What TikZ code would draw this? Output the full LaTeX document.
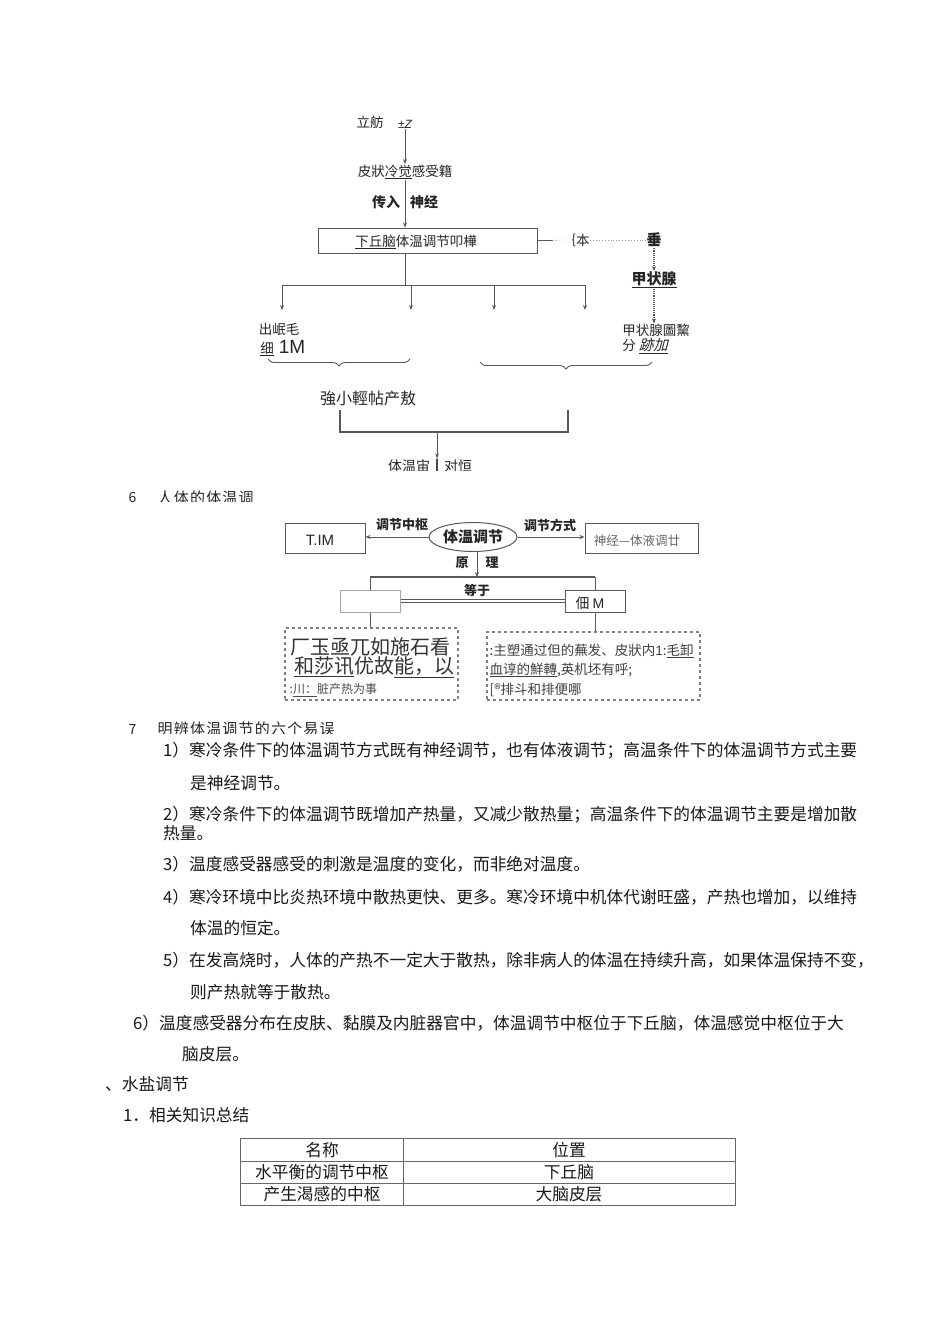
\documentclass[tikz,border=0pt]{standalone}
\usepackage{fontspec}
\setmainfont{Noto Sans CJK SC}
\newfontfamily\lat{Liberation Sans}
\usetikzlibrary{arrows.meta,shapes.geometric,decorations.pathreplacing}
\tikzset{
  txt/.style={inner sep=0.5pt, text=black!85, font=\fontsize{13.5}{15}\selectfont},
  bt/.style={inner sep=0.5pt, text=black!85, font=\fontsize{13.5}{15}\selectfont\bfseries},
  body/.style={inner sep=0pt, anchor=west, text=black!90, font=\fontsize{16.7}{18}\selectfont},
  ln/.style={draw=black!65, line width=0.9pt},
  arr/.style={ln, -{Stealth[length=5pt,width=4pt]}},
  darr/.style={ln, densely dotted, line width=1.3pt, -{Stealth[length=5pt,width=4pt]}},
  bx/.style={draw=black!65, line width=1pt, inner sep=0pt},
  dbx/.style={draw=black!50, dashed, line width=1.4pt, inner sep=0pt},
}
\begin{document}
\begin{tikzpicture}[x=1pt,y=-1pt]
\useasboundingbox[fill=white] (0,0) rectangle (950,1318);

% ---------------- top chart ----------------
\node[txt] (heat) at (370,122) {立舫};
\node[txt, font=\lat\itshape\fontsize{12}{14}\selectfont] (heatz) at (405,124) {±Z};
\node[txt] (recep) at (405,172) {皮狀\underline{冷觉}感受籍};
\draw[arr] (heatz.south) -- (recep.north);
\node[bx, minimum width=219, minimum height=25] (hyp) at (427.5,240.5) {};
\node[txt] (hyplab) at (416,242) {\underline{下丘脑}体温调节叩樺};
\draw[arr] (recep.south) -- (recep.south |- hyp.north);
\node[bt, font=\fontsize{14}{15}\selectfont\bfseries] (cr) at (386,202) {传入};
\node[bt, font=\fontsize{14}{15}\selectfont\bfseries] (sj) at (424,202) {神经};
\node[txt] (ben) at (576,240) {｛本};
\node[bt, font=\fontsize{15}{15}\selectfont\bfseries] (chui) at (654,240) {垂};
\draw[ln] (hyp.east) -- ++(15,0) coordinate (hr);
\draw[ln, dotted, draw=black!40] (hr) -- (ben.west);
\draw[ln, dotted, draw=black!40] (ben.east) -- (chui.west);
\node[bt, font=\fontsize{15}{15}\selectfont\bfseries] (jzx) at (654,280) {\underline{甲状腺}};
\draw[darr] (chui.south) -- (chui.south |- jzx.north);
\node[txt, align=left] (jzxs) at (656,339) {甲状腺圖黧\\分 {\addfontfeature{FakeSlant=0.25}\fontsize{14.5}{14}\selectfont\underline{跡加}}};
\draw[darr] (jzx.south) -- (jzx.south |- jzxs.north);

\coordinate (bj) at (405,285);
\coordinate (a1) at (282,310);
\coordinate (a2) at (411,310);
\coordinate (a3) at (494,310);
\coordinate (a4) at (585,310);
\draw[ln] (hyp.south -| bj) -- (bj);
\draw[ln] (a1 |- bj) -- (a4 |- bj);
\foreach \a in {a1,a2,a3,a4} \draw[arr] (\a |- bj) -- (\a);

\node[txt] (e1a) at (279,329) {出岷毛};
\node[txt] (e1b) at (267,349) {\underline{细}};
\node[txt, font=\lat\fontsize{19}{19}\selectfont] (e1c) at (292,347) {1M};

\coordinate (bl1) at (268,359);
\coordinate (bl2) at (410,359);
\draw[ln, decorate, decoration={brace, mirror, amplitude=7pt}] (bl1) -- (bl2);
\coordinate (br1) at (480,362);
\coordinate (br2) at (652,362);
\draw[ln, decorate, decoration={brace, mirror, amplitude=7pt}] (br1) -- (br2);

\node[txt, font=\fontsize{16}{16}\selectfont] (less) at (368,398) {強小輕帖产敖};
\coordinate (l1) at (340,410);
\coordinate (r1) at (568,410);
\coordinate (jn) at (437,432);
\draw[ln, line width=1.2pt] (l1) -- (l1 |- jn) -- (r1 |- jn) -- (r1);
\begin{scope}
  \clip (370,440) rectangle (510,470);
  \node[txt, font=\fontsize{14}{14}\selectfont] (fin) at (430,466) {体温宙┃对恒};
\end{scope}
\draw[arr] (jn) -- (jn |- fin.north);

% section 6 heading (clipped)
\begin{scope}
  \clip (100,485) rectangle (320,501.5);
  \node[txt, anchor=west, font=\fontsize{14}{14}\selectfont] (s6n) at (128,497.5) {6};
  \node[txt, anchor=west, font=\fontsize{15}{15}\selectfont\addfontfeature{LetterSpace=8}] (s6) at (157,497.5) {人体的体温调};
\end{scope}

% ---------------- second chart ----------------
\node[bx, minimum width=80, minimum height=30] (tim) at (325,538) {};
\node[txt, font=\lat\fontsize{15}{15}\selectfont] (timl) at (320,540) {T.IM};
\node[draw=black!65, line width=1pt, ellipse, inner sep=0pt, minimum width=88, minimum height=29, font=\fontsize{15}{15}\selectfont\bfseries, text=black!85] (tw) at (473,537) {体温调节};
\node[bx, minimum width=113, minimum height=30] (mode) at (641.5,538) {};
\node[txt, text=black!60, font=\fontsize{12.5}{14}\selectfont] (model) at (637,541) {神经—体液调廿};
\draw[arr] (tw.west) -- (tim.east |- tw.west);
\draw[arr] (tw.east) -- (mode.west |- tw.east);
\node[bt, font=\fontsize{13}{15}\selectfont\bfseries] (zs) at (402,525) {调节中枢};
\node[bt, font=\fontsize{13}{15}\selectfont\bfseries] (fs) at (550,525) {调节方式};
\coordinate (pt) at (477,577);
\draw[arr] (tw.south -| pt) -- (pt);
\node[bt, font=\fontsize{13}{15}\selectfont\bfseries] (yuan) at (462,563) {原};
\node[bt, font=\fontsize{13}{15}\selectfont\bfseries] (li) at (492,563) {理};
\node[bx, draw=black!35, minimum width=60, minimum height=22] (lb) at (370,601) {};
\node[bx, minimum width=60, minimum height=22] (rb) at (595,601) {};
\node[txt, font=\fontsize{14}{14}\selectfont] (rbl) at (590,603) {佃 {\lat M}};
\draw[ln, line width=1.3pt] (lb.north |- pt) -- (rb.north |- pt);
\draw[ln] (lb.north |- pt) -- (lb.north);
\draw[ln] (rb.north |- pt) -- (rb.north);
\draw[ln, double, double distance=2pt, line width=0.7pt] (lb.east) -- (rb.west);
\node[bt, font=\fontsize{13}{15}\selectfont\bfseries] (dy) at (477,590) {等于};

\node[dbx, minimum width=173, minimum height=72] (ld) at (371.5,664) {};
\node[dbx, minimum width=213, minimum height=68] (rd) at (593.5,666) {};
\draw[ln] (lb.south) -- (lb.south |- ld.north);
\draw[ln] (rb.south) -- (rb.south |- rd.north);
\node[txt, font=\fontsize{20}{20}\selectfont, text=black!80] (ld1) at (370,647) {厂玉亟兀如施石看};
\node[txt, font=\fontsize{20}{20}\selectfont, text=black!80] (ld2) at (374,667) {\underline{和莎讯}优故\underline{能，以}};
\node[txt, anchor=west, text=black!70, font=\fontsize{12}{14}\selectfont] (ld3) at (289,690) {:\underline{川：}脏产热为事};
\node[txt, anchor=west, font=\fontsize{13.5}{14}\selectfont, text=black!75] (rd1) at (489,651) {:主塑通过但的蕪发、皮狀内{\lat 1}:\underline{毛卸}};
\node[txt, anchor=west, font=\fontsize{13.5}{14}\selectfont, text=black!75] (rd2) at (489,670) {\underline{血谆的鮮轉},英机坯有呼;};
\node[txt, anchor=west, font=\fontsize{13.5}{14}\selectfont, text=black!75] (rd3) at (489,690) {[®排斗和排便哪};

% section 7 heading (clipped)
\begin{scope}
  \clip (100,712) rectangle (420,733);
  \node[txt, anchor=west, font=\fontsize{14}{14}\selectfont] (s7n) at (128,729) {7};
  \node[txt, anchor=west, font=\fontsize{15}{15}\selectfont\addfontfeature{LetterSpace=8}] (s7) at (157,729) {明辨体温调节的六个易误};
\end{scope}

% ---------------- list ----------------
\node[body] (p1) at (163,751) {1）寒冷条件下的体温调节方式既有神经调节，也有体液调节；高温条件下的体温调节方式主要};
\node[body] (p1b) at (190,783) {是神经调节。};
\node[body] (p2) at (163,815) {2）寒冷条件下的体温调节既增加产热量，又减少散热量；高温条件下的体温调节主要是增加散};
\node[body] (p2b) at (163,833) {热量。};
\node[body] (p3) at (163,864) {3）温度感受器感受的刺激是温度的变化，而非绝对温度。};
\node[body] (p4) at (163,897) {4）寒冷环境中比炎热环境中散热更快、更多。寒冷环境中机体代谢旺盛，产热也增加，以维持};
\node[body] (p4b) at (190,928) {体温的恒定。};
\node[body] (p5) at (163,960) {5）在发高烧时，人体的产热不一定大于散热，除非病人的体温在持续升高，如果体温保持不变，};
\node[body] (p5b) at (190,992) {则产热就等于散热。};
\node[body] (p6) at (133,1023) {6）温度感受器分布在皮肤、黏膜及内脏器官中，体温调节中枢位于下丘脑，体温感觉中枢位于大};
\node[body] (p6b) at (182,1054) {脑皮层。};
\node[body] (h2) at (105,1084) {、水盐调节};
\node[body] (h3) at (123,1115) {1．相关知识总结};

% ---------------- table ----------------
\draw[draw=black!60, line width=0.8pt] (240,1138) rectangle (735,1205);
\draw[draw=black!60, line width=0.8pt] (240,1161) -- (735,1161);
\draw[draw=black!60, line width=0.8pt] (240,1183) -- (735,1183);
\draw[draw=black!60, line width=0.8pt] (403,1138) -- (403,1205);
\node[body, anchor=center] (c11) at (322,1150) {名称};
\node[body, anchor=center] (c12) at (569,1150) {位置};
\node[body, anchor=center] (c21) at (322,1172) {水平衡的调节中枢};
\node[body, anchor=center] (c22) at (569,1172) {下丘脑};
\node[body, anchor=center] (c31) at (322,1194) {产生渴感的中枢};
\node[body, anchor=center] (c32) at (569,1194) {大脑皮层};
\end{tikzpicture}
\end{document}
